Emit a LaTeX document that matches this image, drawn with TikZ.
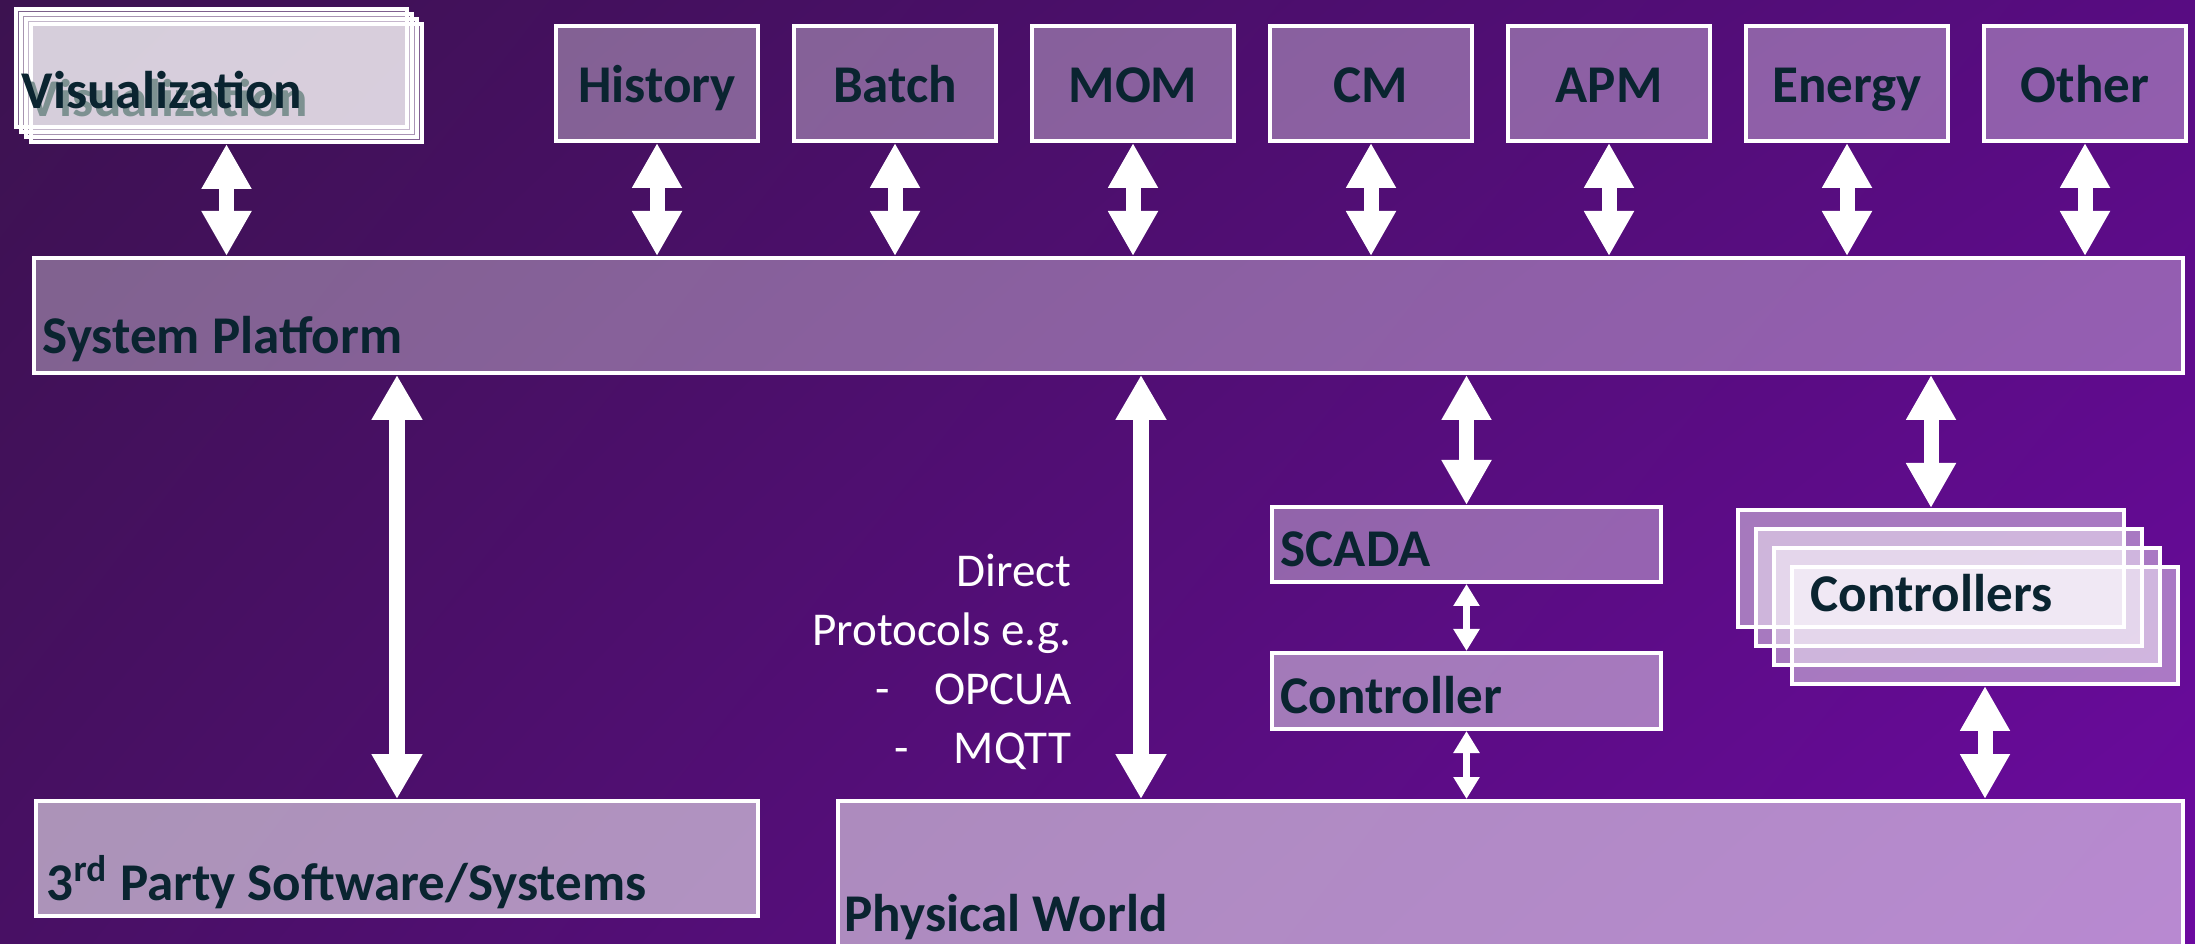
\documentclass[tikz,border=0pt]{standalone}
\usepackage{fontspec}
\setmainfont{Carlito}
\usetikzlibrary{arrows.meta,shadings}
\newcommand{\px}{0.1mm}
\definecolor{ink}{HTML}{0A2430}
\definecolor{inkshadow}{HTML}{7D9191}
\definecolor{bgtl}{HTML}{3C1250}
\definecolor{bgtr}{HTML}{580C82}
\definecolor{bgbl}{HTML}{481064}
\definecolor{bgbr}{HTML}{6C0AA0}

\begin{document}
\begin{tikzpicture}[x=\px, y=-\px,
    box/.style={draw=white, line width=0.4mm, fill=white, fill opacity=#1, text opacity=1, rectangle, anchor=north west, inner sep=0pt, text=ink, font=\bfseries\fontsize{15.1}{18}\selectfont},
    box/.default=0.34,
    topbox/.style={box, minimum width=202*\px, minimum height=115*\px, text height=12pt, text depth=1pt},
    title/.style={anchor=base west, inner sep=0pt, text=ink, font=\bfseries\fontsize{15.1}{18}\selectfont},
    fat/.style={white, line width=1.5mm, {Triangle[width=4.7mm,length=4.5mm]}-{Triangle[width=4.7mm,length=4.5mm]}},
    long/.style={white, line width=1.6mm, {Triangle[width=4.8mm,length=4.5mm]}-{Triangle[width=4.8mm,length=4.5mm]}},
    thin/.style={white, line width=0.7mm, {Triangle[width=2.5mm,length=2.2mm]}-{Triangle[width=2.5mm,length=2.2mm]}}]
    \useasboundingbox (0,0) rectangle (2195,944);
    \clip (0,0) rectangle (2195,944);
    \shade[upper left=bgtl, upper right=bgtr, lower left=bgbl, lower right=bgbr] (0,0) rectangle (2195,944);

    % Visualization stack
    \node[box=0.33, minimum width=391*\px, minimum height=118*\px] (vis-1) at (14,7) {};
    \node[box=0.33, minimum width=391*\px, minimum height=118*\px] (vis-2) at (19,12) {};
    \node[box=0.33, minimum width=391*\px, minimum height=118*\px] (vis-3) at (24,17) {};
    \node[box=0.33, minimum width=391*\px, minimum height=118*\px] (vis-4) at (29,22) {};
    \node[title, text=inkshadow] (vis-shadow) at (27,117) {Visualization};
    \node[title] (vis-text) at (21,109) {Visualization};

    % Top row
    \node[topbox] (history) at (554,24) {History};
    \node[topbox] (batch) at (792,24) {Batch};
    \node[topbox] (mom) at (1030,24) {MOM};
    \node[topbox] (cm) at (1268,24) {CM};
    \node[topbox] (apm) at (1506,24) {APM};
    \node[topbox] (energy) at (1744,24) {Energy};
    \node[topbox] (other) at (1982,24) {Other};

    % Platform
    \node[box, minimum width=2149*\px, minimum height=115*\px] (sys) at (32,256) {};
    \node[title] (sys-text) at (42,354) {System Platform};

    % Field level
    \node[box=0.36, minimum width=389*\px, minimum height=75*\px] (scada) at (1270,505) {};
    \node[title] (scada-text) at (1280,567) {SCADA};
    \node[box=0.45, minimum width=389*\px, minimum height=76*\px] (ctrl) at (1270,651) {};
    \node[title] (ctrl-text) at (1280,713) {Controller};

    \node[box=0.45, minimum width=386*\px, minimum height=117*\px] (ctrls-1) at (1736,508) {};
    \node[box=0.45, minimum width=386*\px, minimum height=117*\px] (ctrls-2) at (1754,527) {};
    \node[box=0.45, minimum width=386*\px, minimum height=117*\px] (ctrls-3) at (1772,546) {};
    \node[box=0.45, minimum width=386*\px, minimum height=117*\px] (ctrls-4) at (1790,565) {};
    \node[title] (ctrls-text) at (1810,612) {Controllers};

    % Bottom row
    \node[box=0.55, minimum width=722*\px, minimum height=115*\px] (third) at (34,799) {};
    \node[title] (third-text) at (46,900) {3\textsuperscript{rd} Party Software/Systems};
    \node[box=0.52, minimum width=1345*\px, minimum height=200*\px] (phys) at (836,799) {};
    \node[title] (phys-text) at (844,931) {Physical World};

    \node[anchor=north east, inner sep=0pt, align=right, text=white, font=\fontsize{13.4}{16.8}\selectfont] (direct-text) at (1072,553)
        {Direct\\Protocols e.g.\\-\hspace{0.95em}OPCUA\\-\hspace{0.95em}MQTT};
    \coordinate (direct) at (1141,600);

    % Arrows
    \draw[fat] (vis-4.south) -- (vis-4.south |- sys.north);
    \draw[fat] (history.south) -- (history.south |- sys.north);
    \draw[fat] (batch.south) -- (batch.south |- sys.north);
    \draw[fat] (mom.south) -- (mom.south |- sys.north);
    \draw[fat] (cm.south) -- (cm.south |- sys.north);
    \draw[fat] (apm.south) -- (apm.south |- sys.north);
    \draw[fat] (energy.south) -- (energy.south |- sys.north);
    \draw[fat] (other.south) -- (other.south |- sys.north);

    \draw[long] (third.north |- sys.south) -- (third.north);
    \draw[long] (direct |- sys.south) -- (direct |- phys.north);
    \draw[fat] (scada.north |- sys.south) -- (scada.north);
    \draw[fat] (ctrls-1.north |- sys.south) -- (ctrls-1.north);
    \draw[thin] (scada.south) -- (ctrl.north);
    \draw[thin] (ctrl.south) -- (ctrl.south |- phys.north);
    \draw[fat] (ctrls-4.south) -- (ctrls-4.south |- phys.north);
\end{tikzpicture}
\end{document}
